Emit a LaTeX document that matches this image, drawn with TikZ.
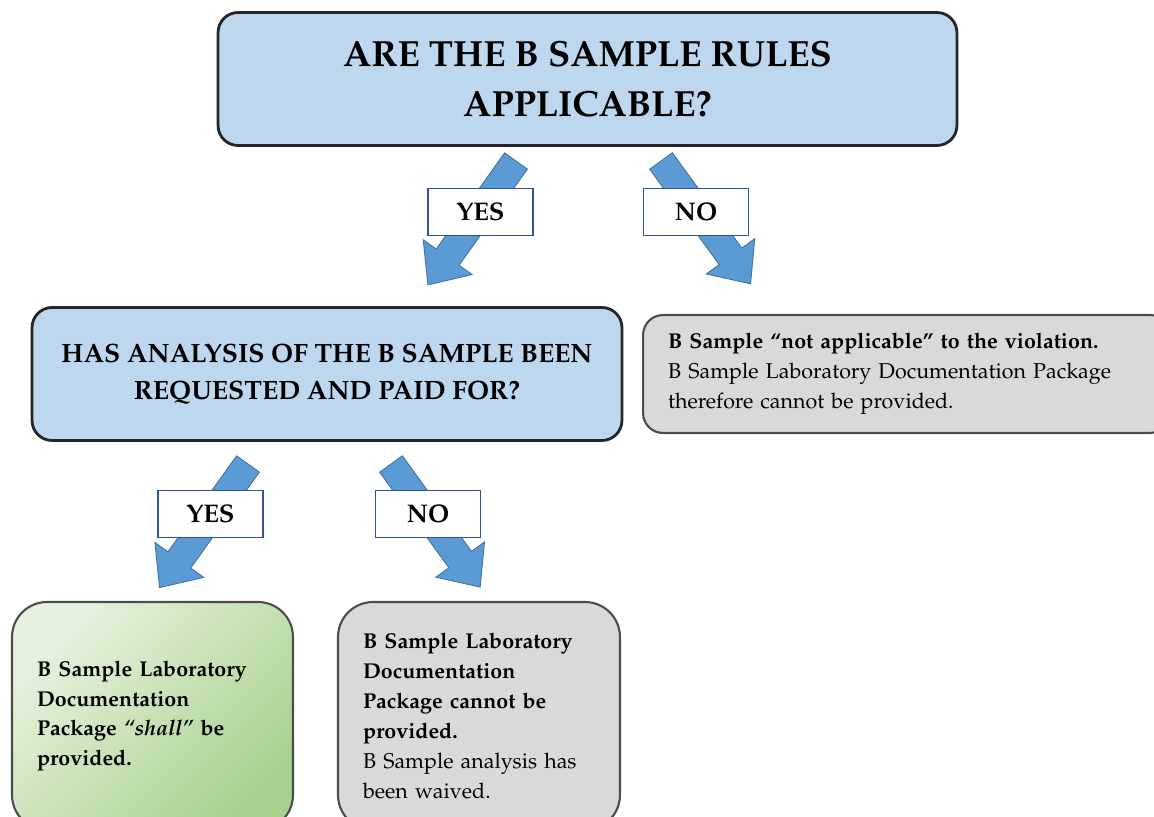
\documentclass[tikz,border=0pt]{standalone}
\usepackage[T1]{fontenc}
\usepackage{mathpazo}
\definecolor{qblue}{HTML}{BDD7EE}
\definecolor{arrowblue}{HTML}{5B9BD5}
\definecolor{arrowline}{HTML}{41719C}
\definecolor{labelline}{HTML}{2F5597}
\definecolor{lightgrey}{HTML}{D9D9D9}
\definecolor{greenlight}{HTML}{E6F2DF}
\definecolor{greendark}{HTML}{A9D18E}
\tikzset{
  question/.style={rectangle, rounded corners=0.4cm, draw=black!85,
                   fill=qblue, line width=1.6pt, align=center,
                   minimum height=2.66cm, font=\bfseries},
  result/.style={rectangle, draw=black!70, fill=lightgrey, line width=1.2pt,
                 align=left, inner xsep=0.5cm, inner ysep=0pt,
                 font=\fontsize{12.2}{17}\selectfont},
  answer/.style={rectangle, draw=labelline, fill=white, line width=0.6pt,
                 minimum width=2.1cm, minimum height=0.94cm,
                 font=\fontsize{14.5}{16}\selectfont\bfseries},
  barrow/.pic={
    \path[fill=arrowblue, draw=arrowline, line width=0.5pt]
      (0,-14) -- (118,-14) -- (118,-30) -- (152,0) -- (118,30)
      -- (118,14) -- (0,14) -- cycle;
  },
}
\begin{document}
\begin{tikzpicture}[x=0.02cm, y=-0.02cm]
  \useasboundingbox (0,0) rectangle (1154,817);
  \clip (0,0) rectangle (1154,817);
  % questions
  \node[question, minimum width=14.78cm,
        font=\fontsize{20.7}{28}\selectfont\bfseries] (rules) at (587.5,79)
        {ARE THE B SAMPLE RULES\\APPLICABLE?};
  \node[question, minimum width=11.8cm,
        font=\fontsize{15.1}{21}\selectfont\bfseries] (paid) at (327,374)
        {HAS ANALYSIS OF THE B SAMPLE BEEN\\REQUESTED AND PAID FOR?};
  % outcomes
  \node[result, rounded corners=0.4cm, text width=9.54cm,
        minimum height=2.36cm] (notappl) at (906.5,374)
        {\textbf{B Sample ``not applicable'' to the violation.}\\
         B Sample Laboratory Documentation Package\\
         therefore cannot be provided.};
  \node[result, rounded corners=0.7cm, text width=4.62cm, minimum height=4.56cm,
        top color=greenlight, bottom color=greendark, shading angle=45]
        (shall) at (152.5,716)
        {\textbf{B Sample Laboratory\\ Documentation\\
         Package \textit{``shall''} be\\ provided.}};
  \node[result, rounded corners=0.7cm, text width=4.64cm,
        minimum height=4.56cm] (waived) at (479,716)
        {\textbf{B Sample Laboratory\\ Documentation\\
         Package cannot be\\ provided.}\\
         B Sample analysis has\\ been waived.};
  % block arrows
  \pic[rotate=-125.4] at (516,161) {barrow};
  \pic[rotate=-53.9] at (661,161) {barrow};
  \pic[rotate=-125.6] at (248,464) {barrow};
  \pic[rotate=-54.1] at (391,464) {barrow};
  % labels
  \node[answer] (yes1) at (480.5,212) {YES};
  \node[answer] (no1) at (696,212) {NO};
  \node[answer] (yes2) at (210.5,514) {YES};
  \node[answer] (no2) at (428,514) {NO};
\end{tikzpicture}
\end{document}
